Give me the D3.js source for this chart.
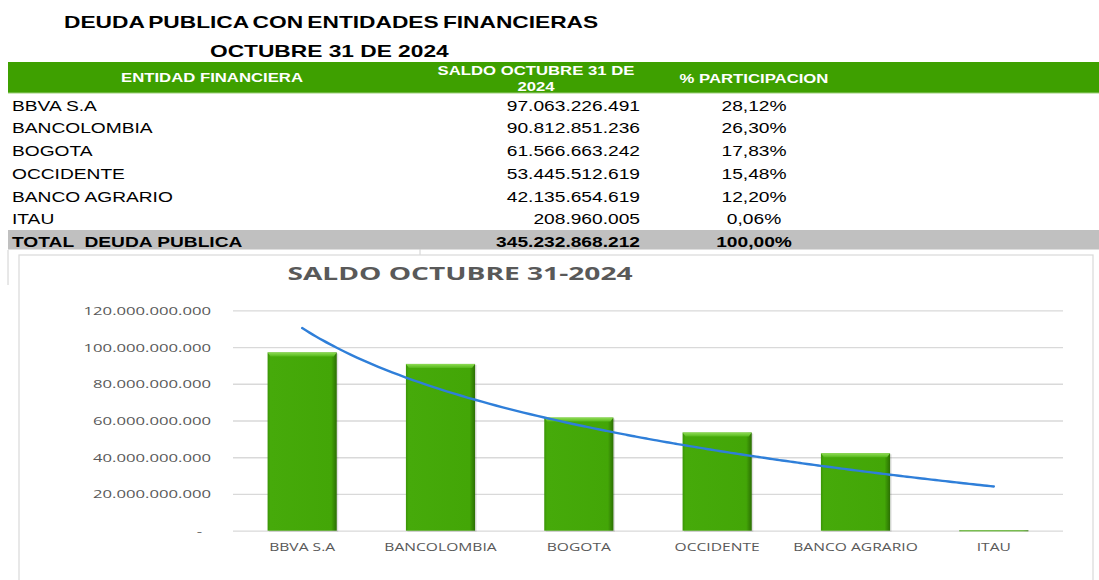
<!DOCTYPE html>
<html>
<head>
<meta charset="utf-8">
<script src="https://cdn.jsdelivr.net/npm/d3@7"></script>
<style>
  body { margin: 0; background: #fff; }
  svg { display: block; }
</style>
</head>
<body>
<div id="chart"></div>
<script>
const entidades = ["BBVA S.A", "BANCOLOMBIA", "BOGOTA", "OCCIDENTE", "BANCO AGRARIO", "ITAU"];
const saldos = [97063226491, 90812851236, 61566663242, 53445512619, 42135654619, 208960005];
const yTicks = [0, 20000000000, 40000000000, 60000000000, 80000000000, 100000000000, 120000000000];

const W = 1099, H = 580;
const SX = 1.37;               // el reporte original sale estirado horizontalmente
const tableFont = "'Liberation Sans', Arial, sans-serif";
const chartFont = "'Open Sans', 'DejaVu Sans', sans-serif";

const es = d3.formatLocale({decimal: ",", thousands: ".", grouping: [3], currency: ["$", ""]});
const fmtNum = es.format(",.0f");
const fmtPct = es.format(".2%");

const svg = d3.select("#chart")
    .append("svg")
    .attr("width", W)
    .attr("height", H);

function label(parent, x, y, str, size, weight, fill, anchor, family, sx) {
    return parent.append("text")
        .attr("transform", `translate(${x},${y}) scale(${sx || SX},1)`)
        .attr("font-family", family || tableFont)
        .attr("font-size", size)
        .attr("font-weight", weight)
        .attr("fill", fill)
        .attr("text-anchor", anchor || "start")
        .style("white-space", "pre")
        .text(str);
}

// ---------- tabla ----------
const table = svg.append("g");

label(table, 64, 28, "DEUDA PUBLICA CON ENTIDADES FINANCIERAS", 16.6, "bold", "#000")
    .attr("word-spacing", -1.5);
label(table, 210, 57, "OCTUBRE 31 DE 2024", 16.6, "bold", "#000");

table.append("rect")
    .attr("x", 8).attr("y", 62)
    .attr("width", W - 8).attr("height", 31)
    .attr("fill", "#3ea000");
table.append("line")
    .attr("x1", 8).attr("x2", W).attr("y1", 93).attr("y2", 93)
    .style("stroke", "#9ccf7a").style("stroke-width", 1);

label(table, 212, 82, "ENTIDAD FINANCIERA", 12.2, "bold", "#fff", "middle");
label(table, 536, 75, "SALDO OCTUBRE 31 DE", 12.2, "bold", "#fff", "middle");
label(table, 536, 91, "2024", 12.2, "bold", "#fff", "middle");
label(table, 754, 83, "% PARTICIPACION", 12.2, "bold", "#fff", "middle");

const total = d3.sum(saldos);
const rowY = d3.scaleLinear().domain([0, 1]).range([105.7, 128.4]);

entidades.forEach((e, i) => {
    const y = rowY(i) + 5;
    label(table, 12, y, e, 14, "normal", "#000");
    label(table, 640, y, fmtNum(saldos[i]), 14, "normal", "#000", "end");
    label(table, 754, y, fmtPct(saldos[i] / total), 14, "normal", "#000", "middle");
});

const totY = rowY(entidades.length);
table.append("rect")
    .attr("x", 8).attr("y", 230)
    .attr("width", W - 8).attr("height", 19.5)
    .attr("fill", "#c0c0c0");
label(table, 12, totY + 5, "TOTAL  DEUDA PUBLICA", 14, "bold", "#000");
label(table, 640, totY + 5, fmtNum(total), 14, "bold", "#000", "end");
label(table, 754, totY + 5, fmtPct(1), 14, "bold", "#000", "middle");

// restos de la grilla de la hoja
table.append("line").attr("x1", 8).attr("x2", 8).attr("y1", 250).attr("y2", 285)
    .style("stroke", "#d0d0d0");
table.append("line").attr("x1", 420).attr("x2", 420).attr("y1", 249).attr("y2", 255)
    .style("stroke", "#d0d0d0");

// ---------- grafico ----------
svg.append("rect")
    .attr("x", 19).attr("y", 255)
    .attr("width", 1074).attr("height", 340)
    .attr("fill", "#fff")
    .style("stroke", "#d9d9d9").style("stroke-width", 1.2);

label(svg, 460, 280, "SALDO OCTUBRE 31-2024", 18.5, "bold", "#595959", "middle", chartFont, 1.52);

const plot = {left: 233, right: 1063, top: 310.3, bottom: 530.7};

const x = d3.scaleBand()
    .domain(entidades)
    .range([plot.left, plot.right])
    .paddingInner(0.5)
    .paddingOuter(0.25);

const y = d3.scaleLinear()
    .domain([0, 120000000000])
    .range([plot.bottom, plot.top]);

const ySX = 1.45;
const yAxis = svg.append("g")
    .attr("transform", `translate(${plot.left},0)`)
    .call(d3.axisLeft(y)
        .tickValues(yTicks)
        .tickSize(-(plot.right - plot.left))
        .tickFormat((d) => d === 0 ? "-" : fmtNum(d)));
yAxis.select(".domain").remove();
yAxis.selectAll(".tick line")
    .style("stroke", "#d9d9d9").style("stroke-width", 1.3);
yAxis.selectAll(".tick text")
    .attr("x", (d) => d === 0 ? -31 / ySX : -22 / ySX)
    .attr("dy", "0.35em")
    .attr("transform", `scale(${ySX},1)`)
    .attr("font-family", chartFont)
    .attr("font-size", 11.5)
    .attr("fill", "#595959");

// relleno de barras con bisel
const defs = svg.append("defs");
const gradH = defs.append("linearGradient").attr("id", "barH").attr("x1", 0).attr("x2", 1).attr("y1", 0).attr("y2", 0);
gradH.append("stop").attr("offset", "0%").attr("stop-color", "#3a9406");
gradH.append("stop").attr("offset", "4%").attr("stop-color", "#46aa0a");
gradH.append("stop").attr("offset", "92%").attr("stop-color", "#43a607");
gradH.append("stop").attr("offset", "100%").attr("stop-color", "#2b6f03");
const gradV = defs.append("linearGradient").attr("id", "barTop").attr("x1", 0).attr("x2", 0).attr("y1", 0).attr("y2", 1);
gradV.append("stop").attr("offset", "0%").attr("stop-color", "#8fdc55");
gradV.append("stop").attr("offset", "100%").attr("stop-color", "#55b81a");

const bars = svg.append("g")
    .selectAll("g")
    .data(entidades.map((e, i) => ({entidad: e, saldo: saldos[i]})))
    .enter()
    .append("g");

bars.filter((d) => plot.bottom - y(d.saldo) > 6)
    .append("rect")
    .attr("x", (d) => x(d.entidad) + 1.5)
    .attr("y", (d) => y(d.saldo) + 1)
    .attr("width", x.bandwidth())
    .attr("height", (d) => plot.bottom - y(d.saldo))
    .attr("fill", "#000")
    .attr("opacity", 0.12);

bars.append("rect")
    .attr("x", (d) => x(d.entidad))
    .attr("y", (d) => y(d.saldo))
    .attr("width", x.bandwidth())
    .attr("height", (d) => Math.max(plot.bottom - y(d.saldo), 1))
    .attr("fill", "url(#barH)");

bars.filter((d) => plot.bottom - y(d.saldo) > 6)
    .append("path")
    .attr("d", (d) => {
        const x0 = x(d.entidad), x1 = x0 + x.bandwidth(), y0 = y(d.saldo);
        return `M${x0},${y0}L${x1},${y0}L${x1 - 3},${y0 + 4}L${x0 + 3},${y0 + 4}Z`;
    })
    .attr("fill", "url(#barTop)");

// linea de tendencia logaritmica (minimos cuadrados sobre ln(i))
const lx = saldos.map((v, i) => Math.log(i + 1));
const mx = d3.mean(lx), my = d3.mean(saldos);
const b = d3.sum(lx, (v, i) => (v - mx) * (saldos[i] - my)) / d3.sum(lx, (v) => (v - mx) * (v - mx));
const a = my - b * mx;

const xPos = d3.scaleLinear()
    .domain([1, entidades.length])
    .range([x(entidades[0]) + x.bandwidth() / 2, x(entidades[entidades.length - 1]) + x.bandwidth() / 2]);

const trend = d3.range(1, entidades.length + 0.001, 0.05).map((t) => [t, a + b * Math.log(t)]);
svg.append("path")
    .datum(trend)
    .attr("fill", "none")
    .style("stroke", "#2f7fd9")
    .style("stroke-width", 2.4)
    .style("stroke-linecap", "round")
    .attr("d", d3.line()
        .x((d) => xPos(d[0]))
        .y((d) => y(d[1]))
        .curve(d3.curveMonotoneX));

// etiquetas de categoria
entidades.forEach((e) => {
    label(svg, x(e) + x.bandwidth() / 2, 551, e, 11, "normal", "#595959", "middle", chartFont, 1.42);
});
</script>
</body>
</html>
